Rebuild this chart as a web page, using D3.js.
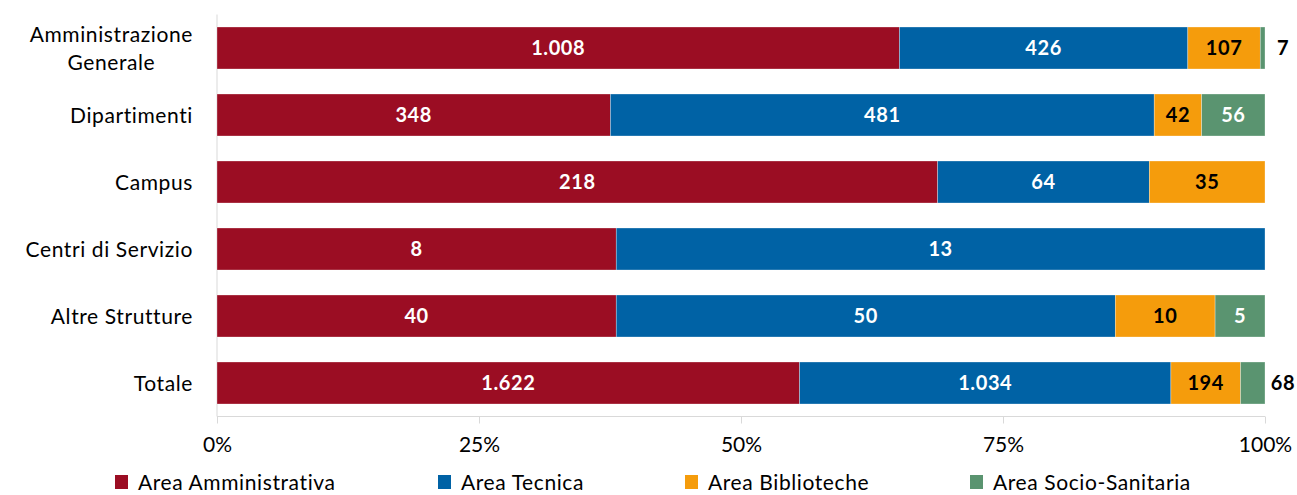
<!DOCTYPE html>
<html>
<head>
<meta charset="utf-8">
<script src="https://cdn.jsdelivr.net/npm/d3@7"></script>
<style>
    body { margin: 0; background: #fff; }
    svg { font-family: Lato, "Open Sans", sans-serif; }
</style>
</head>
<body>
<div id="chart"></div>
<script>
var categories = ['Amministrazione\nGenerale', 'Dipartimenti', 'Campus', 'Centri di Servizio', 'Altre Strutture', 'Totale'];
var seriesNames = ['Area Amministrativa', 'Area Tecnica', 'Area Biblioteche', 'Area Socio-Sanitaria'];
var amministrativa = [1008, 348, 218, 8, 40, 1622];
var tecnica = [426, 481, 64, 13, 50, 1034];
var biblioteche = [107, 42, 35, 0, 10, 194];
var socioSanitaria = [7, 56, 0, 0, 5, 68];
var tickValues = [0, 0.25, 0.5, 0.75, 1];

var colors = ['#9B0D23', '#0062A5', '#F59C0C', '#5A9470'];
var labelColors = ['#fff', '#fff', '#000', '#fff'];

var W = 1297, H = 495;
var margin = { top: 14.5, right: 32, bottom: 78.5, left: 217 },
    width = 1048,
    height = H - margin.top - margin.bottom;

var series = [amministrativa, tecnica, biblioteche, socioSanitaria];
var rows = categories.map(function (c, i) {
    var row = { key: c };
    var total = 0;
    series.forEach(function (s) { total += s[i]; });
    row.total = total;
    series.forEach(function (s, j) { row[seriesNames[j]] = s[i] / total; row['v' + j] = s[i]; });
    return row;
});

var stack = d3.stack().keys(seriesNames);
var stacked = stack(rows);

var x = d3.scaleLinear().domain([0, 1]).range([0, width]);
var y = d3.scaleBand().domain(categories).range([0, height])
    .paddingInner(25 / 67).paddingOuter(12.5 / 67);

var fmt = d3.formatLocale({ decimal: ',', thousands: '.', grouping: [3], currency: ['', '€'] }).format(',d');

var svg = d3.select('#chart').append('svg')
    .attr('width', W)
    .attr('height', H);

var g = svg.append('g')
    .attr('transform', 'translate(' + margin.left + ',' + margin.top + ')');

// x axis
var xAxis = d3.axisBottom(x).tickValues(tickValues).tickSize(7).tickPadding(14)
    .tickFormat(d3.format('.0%'));
var xg = g.append('g')
    .attr('transform', 'translate(0,' + height + ')')
    .call(xAxis);
xg.select('.domain').attr('stroke', '#d9d9d9').attr('d', 'M0,0H' + width);
xg.selectAll('.tick line').attr('stroke', '#d9d9d9');
xg.selectAll('.tick text')
    .attr('font-size', 21)
    .attr('fill', '#000')
    .attr('font-family', 'Lato');

// y axis line
g.append('line')
    .attr('x1', 0).attr('x2', 0)
    .attr('y1', 0).attr('y2', height)
    .attr('stroke', '#d9d9d9');

// bars
var layer = g.selectAll('.layer')
    .data(stacked)
    .enter().append('g')
    .attr('class', 'layer')
    .attr('fill', function (d, i) { return colors[i]; });

layer.selectAll('rect')
    .data(function (d) { return d; })
    .enter().append('rect')
    .attr('x', function (d) { return x(d[0]); })
    .attr('y', function (d) { return y(d.data.key); })
    .attr('width', function (d) { return x(d[1]) - x(d[0]); })
    .attr('height', y.bandwidth())
    .attr('stroke', '#fff')
    .attr('stroke-opacity', 0.5)
    .attr('stroke-width', 0.6);

// data labels (small segments get their label outside the bar)
var minInside = 30;
layer.each(function (s, j) {
    d3.select(this).selectAll('text')
        .data(s.filter(function (d) { return d.data['v' + j] > 0; }))
        .enter().append('text')
        .attr('x', function (d) {
            var w = x(d[1]) - x(d[0]);
            if (w < minInside) return width + 18;
            return (x(d[0]) + x(d[1])) / 2;
        })
        .attr('y', function (d) { return y(d.data.key) + y.bandwidth() / 2; })
        .attr('dy', '0.36em')
        .attr('text-anchor', 'middle')
        .attr('font-size', 20)
        .attr('letter-spacing', '0.6px')
        .attr('font-weight', 'bold')
        .attr('fill', function (d) {
            var w = x(d[1]) - x(d[0]);
            return w < minInside ? '#000' : labelColors[j];
        })
        .text(function (d) { return fmt(d.data['v' + j]); });
});

// category labels
var catLabel = g.selectAll('.cat-label')
    .data(categories)
    .enter().append('text')
    .attr('class', 'cat-label')
    .attr('font-size', 21)
    .attr('letter-spacing', '0.6px')
    .attr('fill', '#000')
    .attr('text-anchor', 'end')
    .attr('transform', function (d) {
        return 'translate(-24,' + (y(d) + y.bandwidth() / 2) + ')';
    });

catLabel.each(function (d) {
    var lines = d.split('\n');
    var t = d3.select(this);
    if (lines.length > 1) {
        t.attr('text-anchor', 'middle');
        lines.forEach(function (l, i) {
            t.append('tspan')
                .attr('x', 0)
                .attr('dy', i === 0 ? (-0.67 + 0.36) + 'em' : '1.34em')
                .text(l);
        });
        var bb = this.getBBox();
        t.selectAll('tspan').attr('x', -bb.width / 2);
    } else {
        t.append('tspan').attr('x', 0).attr('dy', '0.36em').text(d);
    }
});

// legend
var legendX = [115, 438, 685, 970];
var legend = svg.selectAll('.legend')
    .data(seriesNames)
    .enter().append('g')
    .attr('class', 'legend')
    .attr('transform', function (d, i) { return 'translate(' + legendX[i] + ',482)'; });

legend.append('rect')
    .attr('x', 0).attr('y', -7)
    .attr('width', 13).attr('height', 14)
    .attr('fill', function (d, i) { return colors[i]; });

legend.append('text')
    .attr('x', 23)
    .attr('dy', '0.36em')
    .attr('font-size', 21)
    .attr('letter-spacing', '0.6px')
    .attr('fill', '#000')
    .text(function (d) { return d; });
</script>
</body>
</html>
